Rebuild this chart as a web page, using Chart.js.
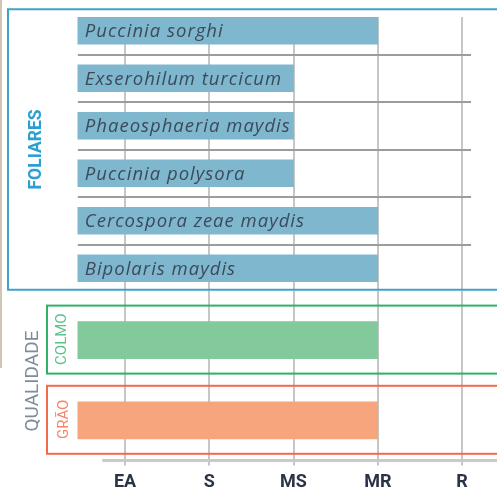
<!DOCTYPE html>
<html>
<head>
<meta charset="utf-8">
<script src="https://cdn.jsdelivr.net/npm/chart.js@4/dist/chart.umd.min.js"></script>
<style>
  html, body { margin: 0; padding: 0; background: #fff; overflow: hidden; }
  body { width: 497px; height: 488px; position: relative; }
  #edge { position: absolute; left: 0; top: 0; width: 2px; height: 368px; background: #cfc6b6; }
  #foliar-wrap { position: absolute; left: 0; top: 0; width: 497px; height: 298px; }
  #qual-wrap { position: absolute; left: 0; top: 298px; width: 497px; height: 206px; }
</style>
</head>
<body>
<div id="edge"></div>
<div id="foliar-wrap"><canvas id="foliar_chart"></canvas></div>
<div id="qual-wrap"><canvas id="qual_chart"></canvas></div>
<script>
const foliarLabels = ["Puccinia sorghi", "Exserohilum turcicum", "Phaeosphaeria maydis", "Puccinia polysora", "Cercospora zeae maydis", "Bipolaris maydis"];
const foliarValues = [4, 3, 3, 3, 4, 4];
const qualidadeLabels = ["COLMO", "GRÃO"];
const qualidadeValues = [4, 4];
const tickValues = [1, 2, 3, 4, 5];
const tickLabels = ["EA", "S", "MS", "MR", "R"];

const xMin = -0.4837;
const xMax = 5.415;
const barBase = 0.44;

const gridColor = "#c6c6c6";

function drawGrid(chart, top, bottom){
    const ctx = chart.ctx;
    const xScale = chart.scales.x;
    ctx.save();
    ctx.strokeStyle = gridColor;
    ctx.lineWidth = 2;
    tickValues.forEach(v => {
        const x = Math.round(xScale.getPixelForValue(v));
        ctx.beginPath();
        ctx.moveTo(x, top);
        ctx.lineTo(x, bottom);
        ctx.stroke();
    });
    ctx.restore();
}

function verticalText(ctx, text, x, y, font, color){
    ctx.save();
    ctx.translate(x, y);
    ctx.rotate(-Math.PI / 2);
    ctx.font = font;
    ctx.fillStyle = color;
    ctx.textAlign = "center";
    ctx.textBaseline = "middle";
    ctx.fillText(text, 0, 0);
    ctx.restore();
}

const foliarPlugin = {
    id: "foliarDeco",
    beforeDatasetsDraw(chart){
        const ctx = chart.ctx;
        const xScale = chart.scales.x;
        const bars = chart.getDatasetMeta(0).data;
        drawGrid(chart, 17, chart.height);

        // separators between rows
        ctx.save();
        ctx.strokeStyle = "#9c9c9c";
        ctx.lineWidth = 2;
        const left = xScale.getPixelForValue(barBase);
        const right = xScale.getPixelForValue(tickValues[tickValues.length - 1]) + 9;
        for (let i = 0; i < bars.length - 1; i++) {
            const y = Math.round((bars[i].y + bars[i + 1].y) / 2);
            ctx.beginPath();
            ctx.moveTo(left, y);
            ctx.lineTo(right, y);
            ctx.stroke();
        }
        ctx.restore();

        // blue group box
        const first = bars[0], last = bars[bars.length - 1];
        const boxTop = first.y - first.height / 2 - 8;
        const boxBottom = last.y + last.height / 2 + 8;
        ctx.save();
        ctx.strokeStyle = "#3ea3cb";
        ctx.lineWidth = 2;
        ctx.strokeRect(8, boxTop, chart.width + 10, boxBottom - boxTop);
        ctx.restore();

        verticalText(ctx, "FOLIARES", 37, (boxTop + boxBottom) / 2, "bold 17.5px Roboto", "#2c9fd2");
    },
    afterDatasetsDraw(chart){
        const ctx = chart.ctx;
        const bars = chart.getDatasetMeta(0).data;
        ctx.save();
        ctx.font = "italic 18.5px 'Open Sans'";
        ctx.letterSpacing = "1px";
        ctx.fillStyle = "#3b4b5a";
        ctx.textAlign = "left";
        ctx.textBaseline = "middle";
        bars.forEach((bar, i) => {
            ctx.fillText(foliarLabels[i], bar.base + 7, bar.y + 1);
        });
        ctx.restore();
    }
};

const qualPlugin = {
    id: "qualDeco",
    beforeDatasetsDraw(chart){
        const ctx = chart.ctx;
        const xScale = chart.scales.x;
        const bottom = chart.chartArea.bottom;
        drawGrid(chart, 0, bottom + 5);

        // axis line
        ctx.save();
        ctx.strokeStyle = "#c9c9c9";
        ctx.lineWidth = 3;
        ctx.beginPath();
        ctx.moveTo(xScale.getPixelForValue(0.73), bottom);
        ctx.lineTo(chart.width, bottom);
        ctx.stroke();
        ctx.restore();

        const bars = chart.getDatasetMeta(0).data;
        const boxColors = ["#2fb168", "#f26a4b"];
        const textColors = ["#5cc28c", "#f6856a"];
        const textX = [62, 64];
        bars.forEach((bar, i) => {
            const top = bar.y - bar.height / 2 - 16;
            const bot = bar.y + bar.height / 2 + 15;
            ctx.save();
            ctx.strokeStyle = boxColors[i];
            ctx.lineWidth = 2;
            ctx.strokeRect(47, top, chart.width + 10, bot - top);
            ctx.restore();
            verticalText(ctx, qualidadeLabels[i], textX[i], bar.y - 1, "15px Roboto", textColors[i]);
        });

        verticalText(ctx, "QUALIDADE", 33, 83, "19px Roboto", "#808b9c");
    }
};

const xOptions = {
    type: "linear",
    min: xMin,
    max: xMax,
    afterBuildTicks: scale => {
        scale.ticks = tickValues.map(v => ({ value: v }));
    }
};

new Chart(document.getElementById("foliar_chart"), {
    type: "bar",
    data: {
        labels: foliarLabels,
        datasets: [{
            data: foliarValues,
            base: barBase,
            backgroundColor: "#7fb7cf",
            barThickness: 27
        }]
    },
    options: {
        indexAxis: "y",
        responsive: true,
        maintainAspectRatio: false,
        animation: false,
        layout: { padding: { top: 7, bottom: 6, left: 0, right: 0 } },
        plugins: { legend: { display: false }, tooltip: { enabled: false } },
        scales: {
            x: Object.assign({ display: false }, xOptions),
            y: { display: false }
        }
    },
    plugins: [foliarPlugin]
});

new Chart(document.getElementById("qual_chart"), {
    type: "bar",
    data: {
        labels: qualidadeLabels,
        datasets: [{
            data: qualidadeValues,
            base: barBase,
            backgroundColor: ["#82c99b", "#f6a57d"],
            barThickness: 37
        }]
    },
    options: {
        indexAxis: "y",
        responsive: true,
        maintainAspectRatio: false,
        animation: false,
        layout: { padding: { top: 2, bottom: 0, left: 0, right: 0 } },
        plugins: { legend: { display: false }, tooltip: { enabled: false } },
        scales: {
            x: Object.assign({
                display: true,
                grid: { display: false, drawTicks: false },
                border: { display: false },
                ticks: {
                    padding: 11,
                    color: "#2b3447",
                    font: { family: "Roboto", size: 18, weight: "bold" },
                    callback: value => tickLabels[tickValues.indexOf(value)]
                }
            }, xOptions),
            y: { display: false }
        }
    },
    plugins: [qualPlugin]
});
</script>
</body>
</html>
